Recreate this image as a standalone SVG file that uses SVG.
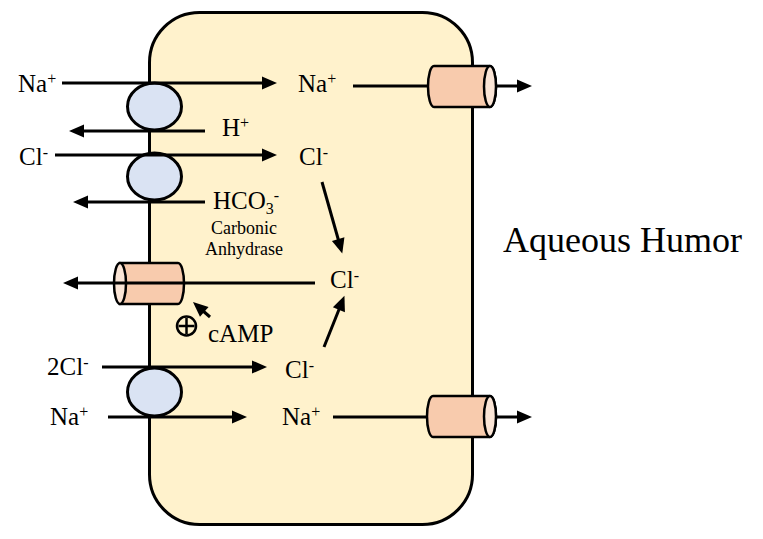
<svg xmlns="http://www.w3.org/2000/svg" width="763" height="539" viewBox="0 0 763 539">
<style>
text{font-family:"Liberation Serif","Times New Roman",serif;fill:#000}
.ion{font-size:25px}
.sup{font-size:16px}
.sub{font-size:16px}
.small{font-size:18px}
.ln{stroke:#000;stroke-width:3;fill:none}
.arr{stroke:#000;stroke-width:3;fill:none;marker-end:url(#ah)}
.pump{fill:#dae3f3;stroke:#000;stroke-width:3}
.cyl{fill:#f8cbad;stroke:#000;stroke-width:2.5}
.cap{fill:#fbe5d6;stroke:#000;stroke-width:2.5}
</style>
<defs>
<marker id="ah" markerUnits="userSpaceOnUse" markerWidth="16" markerHeight="14" refX="3" refY="6.5" orient="auto" overflow="visible">
<path d="M0,0 L15,6.5 L0,13 Z" fill="#000"/>
</marker>
</defs>
<rect width="763" height="539" fill="#fff"/>
<g id="cell">
<rect x="149.5" y="12.5" width="323" height="512" rx="50" ry="50" fill="#fff2cc" stroke="#000" stroke-width="3"/>
</g>
<g id="connectors-behind">
<line class="arr" x1="353" y1="86" x2="520" y2="86"/>
<line class="arr" x1="333" y1="417" x2="520" y2="417"/>
</g>
<g id="pump1"><ellipse class="pump" cx="154.5" cy="106.5" rx="27" ry="23.5"/></g>
<g id="pump2"><ellipse class="pump" cx="154.5" cy="176.5" rx="27" ry="23.5"/></g>
<g id="pump3"><ellipse class="pump" cx="154.5" cy="392" rx="27" ry="24"/></g>
<g id="channel-out-top">
<path class="cyl" d="M434,66 L490,66 A6,20.5 0 0 1 490,107 L434,107 A6,20.5 0 0 1 434,66 Z"/>
<ellipse class="cap" cx="490" cy="86.5" rx="6" ry="20.5"/>
</g>
<g id="channel-out-bottom">
<path class="cyl" d="M433,396 L490,396 A6,20.5 0 0 1 490,437 L433,437 A6,20.5 0 0 1 433,396 Z"/>
<ellipse class="cap" cx="490" cy="416.5" rx="6" ry="20.5"/>
</g>
<g id="channel-cl">
<path class="cyl" d="M120,263 L178,263 A6,20.5 0 0 1 178,304 L120,304 Z"/>
<ellipse class="cap" cx="120" cy="283.5" rx="6" ry="20.5"/>
</g>
<g id="connectors">
<line class="arr" x1="62" y1="83" x2="265" y2="83"/>
<line class="arr" x1="205" y1="131" x2="81" y2="131"/>
<line class="arr" x1="55" y1="155" x2="265" y2="155"/>
<line class="arr" x1="205" y1="202" x2="85" y2="202"/>
<line class="arr" x1="322" y1="182" x2="339" y2="242"/>
<line class="arr" x1="315" y1="283" x2="75" y2="283"/>
<line class="arr" x1="210" y1="317" x2="202" y2="310"/>
<line class="arr" x1="324" y1="347" x2="340" y2="307"/>
<line class="arr" x1="102" y1="367" x2="255" y2="367"/>
<line class="arr" x1="108" y1="417" x2="235" y2="417"/>
</g>
<g id="labels">
<text class="ion" x="18" y="92">Na<tspan class="sup" dy="-8">+</tspan></text>
<text class="ion" x="298" y="92">Na<tspan class="sup" dy="-8">+</tspan></text>
<text class="ion" x="222" y="136">H<tspan class="sup" dy="-8">+</tspan></text>
<text class="ion" x="19" y="165">Cl<tspan class="sup" dy="-7">-</tspan></text>
<text class="ion" x="299" y="165">Cl<tspan class="sup" dy="-7">-</tspan></text>
<text class="ion" x="213" y="209">HCO<tspan class="sub" dy="5">3</tspan><tspan class="sup" dy="-13">-</tspan></text>
<text class="small" x="244" y="234" text-anchor="middle">Carbonic</text>
<text class="small" x="244" y="255" text-anchor="middle">Anhydrase</text>
<text class="ion" x="330" y="288">Cl<tspan class="sup" dy="-7">-</tspan></text>
<text class="ion" x="208" y="342">cAMP</text>
<text class="ion" x="47" y="375">2Cl<tspan class="sup" dy="-7">-</tspan></text>
<text class="ion" x="285" y="378">Cl<tspan class="sup" dy="-7">-</tspan></text>
<text class="ion" x="50" y="425">Na<tspan class="sup" dy="-8">+</tspan></text>
<text class="ion" x="282" y="425">Na<tspan class="sup" dy="-8">+</tspan></text>
<text x="503" y="252" font-size="36">Aqueous Humor</text>
</g>
<g id="camp-plus" stroke="#000" stroke-width="2.5" fill="none">
<circle cx="186.5" cy="326" r="9.5"/>
<line x1="186.5" y1="318" x2="186.5" y2="334"/>
<line x1="178.5" y1="326" x2="194.5" y2="326"/>
</g>
</svg>
